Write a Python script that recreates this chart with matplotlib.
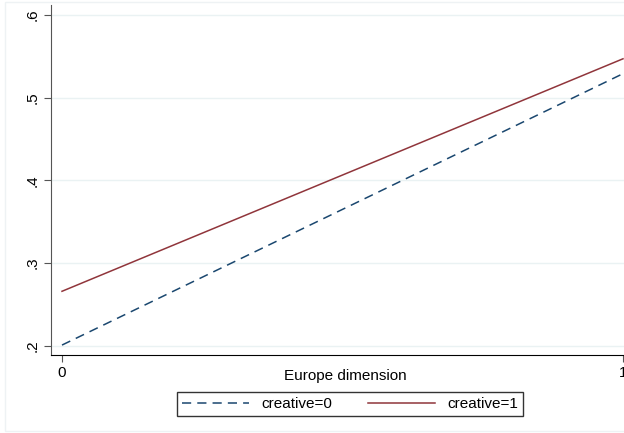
import matplotlib.pyplot as plt
from matplotlib.patches import Rectangle

plt.rcParams['font.family'] = ['Liberation Sans', 'DejaVu Sans']

# predicted values at Europe dimension = 0 and 1
europe = [0, 1]
creative0 = [0.201, 0.529]
creative1 = [0.266, 0.547]
yticks = [0.2, 0.3, 0.4, 0.5, 0.6]
ytick_labels = ['.2', '.3', '.4', '.5', '.6']
xticks = [0, 1]

fig = plt.figure(figsize=(6.24, 4.33), dpi=100)
fig.patches.append(Rectangle((5 / 624, 0.005), 1, 0.99, transform=fig.transFigure,
                             fill=False, edgecolor='#eef2f4', linewidth=1))
ax = fig.add_axes([51 / 624, 78 / 433, 583 / 624, 350 / 433])

ax.plot(europe, creative0, color='#1a476f', linestyle=(0, (6, 4)), linewidth=1.1,
        label='creative=0')
ax.plot(europe, creative1, color='#90353b', linewidth=1.1, label='creative=1')

ax.set_xlim(-0.0196, 1.0196)
ax.set_ylim(0.189, 0.612)
ax.set_yticks(yticks)
ax.set_yticklabels(ytick_labels, rotation=90, va='center', fontsize=11)
ax.set_xticks(xticks)
ax.set_xticklabels(['0', '1'], fontsize=11)
ax.grid(axis='y', color='#eaf2f3', linewidth=1)
ax.set_axisbelow(True)
fig.text(345 / 624, 1 - 376 / 433, 'Europe dimension', ha='center', va='center', fontsize=11)

for side in ['top', 'right']:
    ax.spines[side].set_visible(False)
ax.spines['left'].set_color('#555555')
ax.spines['bottom'].set_color('black')
ax.tick_params(axis='y', length=5, color='#555555', pad=3)
ax.tick_params(axis='x', length=5, color='#555555', pad=3)

fig.legend(loc='center', bbox_to_anchor=(350 / 624, 29 / 433), ncol=2, fontsize=11,
           frameon=True, fancybox=False, edgecolor='black', handlelength=4.4,
           columnspacing=2.3, borderpad=0.35)

fig.savefig('out.png', dpi=100)
